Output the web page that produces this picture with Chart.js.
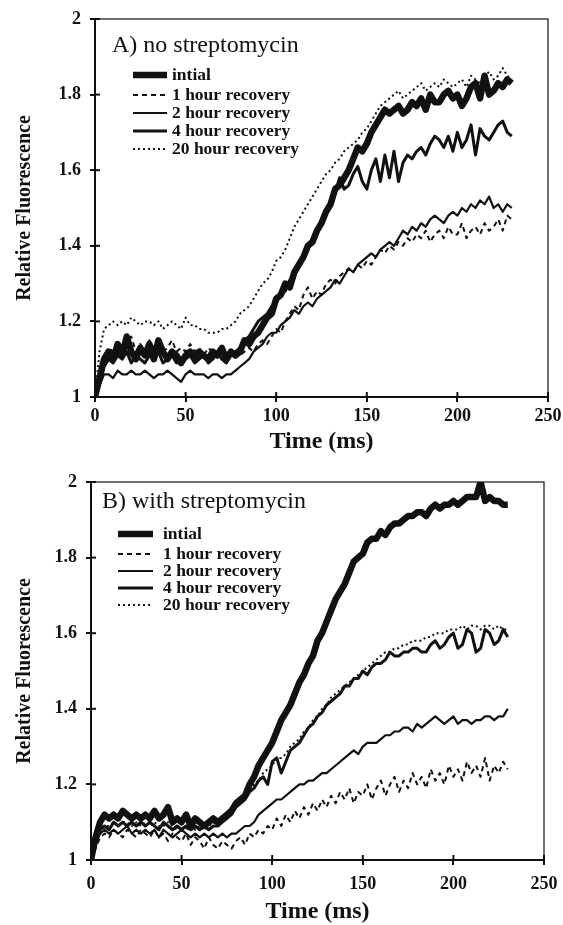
<!DOCTYPE html>
<html>
<head>
<meta charset="utf-8">
<title>Relative Fluorescence</title>
<script src="https://cdn.jsdelivr.net/npm/chart.js@4.4.1/dist/chart.umd.min.js"></script>
<style>
    html, body { margin: 0; padding: 0; background: #fff; }
    canvas { display: block; }
</style>
</head>
<body>
<canvas id="graficoA" width="563" height="462"></canvas>
<canvas id="graficoB" width="563" height="463"></canvas>
<script>
// Tiempo (ms)
const tiempos = [0,2.5,5,7.5,10,12.5,15,17.5,20,22.5,
    25,27.5,30,32.5,35,37.5,40,42.5,45,47.5,
    50,52.5,55,57.5,60,62.5,65,67.5,70,72.5,
    75,77.5,80,82.5,85,87.5,90,92.5,95,97.5,
    100,102.5,105,107.5,110,112.5,115,117.5,120,122.5,
    125,127.5,130,132.5,135,137.5,140,142.5,145,147.5,
    150,152.5,155,157.5,160,162.5,165,167.5,170,172.5,
    175,177.5,180,182.5,185,187.5,190,192.5,195,197.5,
    200,202.5,205,207.5,210,212.5,215,217.5,220,222.5,
    225,227.5,230];

const etiquetas = ['intial', '1 hour recovery', '2 hour recovery', '4 hour recovery', '20 hour recovery'];
const marcasX = [0, 50, 100, 150, 200, 250];
const marcasY = [1, 1.2, 1.4, 1.6, 1.8, 2];

// A) sin estreptomicina
const sinInicial = [1.00,1.05,1.10,1.12,1.10,1.14,1.11,1.16,1.12,1.10,
    1.13,1.11,1.14,1.10,1.15,1.12,1.10,1.12,1.11,1.09,
    1.11,1.12,1.10,1.12,1.11,1.10,1.12,1.11,1.13,1.10,
    1.12,1.11,1.12,1.15,1.14,1.16,1.17,1.19,1.21,1.22,
    1.26,1.27,1.30,1.29,1.33,1.35,1.37,1.40,1.41,1.44,
    1.46,1.49,1.51,1.55,1.56,1.58,1.60,1.63,1.66,1.65,
    1.67,1.70,1.72,1.74,1.76,1.75,1.76,1.77,1.75,1.76,
    1.78,1.77,1.79,1.76,1.80,1.78,1.78,1.80,1.81,1.79,
    1.80,1.77,1.79,1.82,1.83,1.79,1.85,1.80,1.81,1.83,
    1.82,1.84,1.83];
const sin1h = [1.00,1.06,1.11,1.13,1.12,1.15,1.13,1.14,1.16,1.12,
    1.14,1.12,1.15,1.13,1.14,1.12,1.13,1.15,1.12,1.13,
    1.12,1.14,1.12,1.13,1.11,1.13,1.12,1.11,1.13,1.12,
    1.11,1.12,1.11,1.12,1.13,1.12,1.14,1.15,1.14,1.16,
    1.18,1.17,1.20,1.22,1.24,1.23,1.27,1.29,1.26,1.28,
    1.27,1.30,1.31,1.30,1.32,1.33,1.34,1.33,1.35,1.34,
    1.36,1.35,1.37,1.39,1.38,1.40,1.39,1.41,1.40,1.42,
    1.41,1.43,1.42,1.44,1.41,1.43,1.44,1.42,1.45,1.43,
    1.43,1.46,1.42,1.44,1.45,1.43,1.46,1.44,1.45,1.47,
    1.44,1.48,1.47];
const sin2h = [1.00,1.03,1.06,1.06,1.05,1.07,1.06,1.06,1.07,1.06,
    1.06,1.07,1.06,1.05,1.06,1.06,1.07,1.06,1.05,1.04,
    1.06,1.07,1.06,1.06,1.06,1.05,1.06,1.06,1.05,1.06,
    1.06,1.07,1.08,1.09,1.10,1.12,1.13,1.14,1.16,1.17,
    1.17,1.19,1.20,1.21,1.23,1.22,1.24,1.25,1.24,1.26,
    1.27,1.28,1.29,1.31,1.30,1.32,1.34,1.33,1.35,1.36,
    1.37,1.38,1.37,1.39,1.40,1.41,1.40,1.42,1.44,1.43,
    1.45,1.44,1.46,1.45,1.47,1.48,1.47,1.46,1.48,1.49,
    1.48,1.50,1.49,1.51,1.50,1.52,1.51,1.53,1.50,1.51,
    1.49,1.51,1.50];
const sin4h = [1.00,1.04,1.08,1.10,1.09,1.11,1.10,1.12,1.09,1.11,
    1.10,1.09,1.11,1.10,1.12,1.09,1.10,1.11,1.09,1.10,
    1.10,1.11,1.09,1.10,1.11,1.09,1.10,1.12,1.10,1.09,
    1.11,1.12,1.13,1.15,1.16,1.18,1.20,1.21,1.22,1.24,
    1.25,1.27,1.28,1.31,1.32,1.35,1.37,1.39,1.42,1.44,
    1.47,1.49,1.52,1.54,1.58,1.55,1.56,1.59,1.61,1.57,
    1.55,1.60,1.63,1.57,1.64,1.58,1.65,1.57,1.62,1.64,
    1.63,1.65,1.66,1.64,1.67,1.69,1.68,1.66,1.69,1.65,
    1.70,1.66,1.68,1.72,1.64,1.71,1.69,1.68,1.70,1.72,
    1.73,1.70,1.69];
const sin20h = [1.00,1.12,1.18,1.19,1.20,1.19,1.20,1.19,1.21,1.20,
    1.19,1.20,1.20,1.19,1.20,1.18,1.19,1.20,1.19,1.18,
    1.21,1.19,1.19,1.18,1.18,1.17,1.17,1.17,1.18,1.18,
    1.19,1.20,1.22,1.23,1.24,1.26,1.28,1.30,1.31,1.33,
    1.36,1.37,1.39,1.42,1.45,1.47,1.49,1.51,1.53,1.55,
    1.57,1.59,1.60,1.62,1.63,1.65,1.66,1.67,1.68,1.70,
    1.71,1.73,1.75,1.77,1.78,1.79,1.80,1.81,1.79,1.80,
    1.81,1.82,1.83,1.81,1.82,1.83,1.82,1.84,1.83,1.82,
    1.83,1.84,1.82,1.85,1.84,1.83,1.85,1.86,1.84,1.85,
    1.87,1.85,1.84];

// B) con estreptomicina
const conInicial = [1.00,1.06,1.10,1.12,1.11,1.12,1.11,1.13,1.12,1.11,
    1.12,1.11,1.12,1.11,1.13,1.11,1.12,1.14,1.10,1.11,
    1.10,1.12,1.09,1.11,1.10,1.09,1.10,1.11,1.10,1.11,
    1.12,1.13,1.15,1.16,1.17,1.20,1.22,1.25,1.27,1.29,
    1.31,1.34,1.37,1.39,1.41,1.44,1.47,1.49,1.52,1.54,
    1.58,1.60,1.63,1.66,1.69,1.71,1.73,1.76,1.79,1.80,
    1.81,1.84,1.85,1.85,1.87,1.86,1.88,1.89,1.89,1.90,
    1.91,1.91,1.92,1.92,1.91,1.93,1.94,1.93,1.94,1.94,
    1.95,1.94,1.95,1.96,1.96,1.96,2.00,1.95,1.96,1.95,
    1.95,1.94,1.94];
const con1h = [1.00,1.03,1.06,1.07,1.06,1.08,1.07,1.06,1.08,1.07,
    1.06,1.08,1.07,1.06,1.08,1.06,1.07,1.05,1.07,1.06,
    1.05,1.07,1.04,1.06,1.05,1.03,1.06,1.04,1.03,1.05,
    1.04,1.03,1.05,1.06,1.04,1.07,1.06,1.08,1.07,1.09,
    1.08,1.11,1.09,1.12,1.10,1.13,1.11,1.14,1.12,1.15,
    1.13,1.16,1.14,1.17,1.15,1.18,1.16,1.19,1.15,1.18,
    1.17,1.20,1.16,1.19,1.21,1.17,1.20,1.22,1.18,1.21,
    1.19,1.23,1.20,1.22,1.19,1.24,1.21,1.23,1.20,1.25,
    1.22,1.24,1.21,1.26,1.23,1.25,1.22,1.27,1.21,1.25,
    1.23,1.26,1.24];
const con2h = [1.00,1.04,1.07,1.08,1.07,1.08,1.07,1.08,1.09,1.07,
    1.08,1.07,1.08,1.07,1.08,1.06,1.08,1.07,1.06,1.07,
    1.08,1.07,1.06,1.07,1.06,1.07,1.06,1.07,1.06,1.07,
    1.06,1.07,1.07,1.08,1.09,1.09,1.10,1.12,1.13,1.14,
    1.15,1.16,1.16,1.17,1.18,1.19,1.20,1.20,1.21,1.21,
    1.22,1.23,1.23,1.24,1.25,1.26,1.27,1.28,1.29,1.28,
    1.30,1.31,1.31,1.31,1.32,1.33,1.33,1.34,1.34,1.35,
    1.35,1.34,1.36,1.35,1.36,1.37,1.38,1.37,1.36,1.37,
    1.38,1.36,1.37,1.37,1.36,1.37,1.37,1.38,1.38,1.37,
    1.38,1.38,1.40];
const con4h = [1.00,1.05,1.08,1.09,1.08,1.10,1.09,1.10,1.09,1.10,
    1.09,1.10,1.09,1.10,1.09,1.08,1.10,1.09,1.08,1.09,
    1.08,1.09,1.08,1.09,1.08,1.09,1.08,1.09,1.09,1.10,
    1.11,1.12,1.14,1.15,1.16,1.18,1.19,1.21,1.22,1.20,
    1.26,1.27,1.23,1.26,1.29,1.30,1.31,1.33,1.35,1.36,
    1.38,1.39,1.41,1.42,1.43,1.44,1.46,1.46,1.48,1.48,
    1.50,1.49,1.51,1.52,1.52,1.53,1.55,1.54,1.54,1.55,
    1.55,1.56,1.56,1.55,1.55,1.57,1.58,1.56,1.57,1.59,
    1.60,1.56,1.57,1.61,1.60,1.55,1.56,1.61,1.60,1.57,
    1.58,1.61,1.59];
const con20h = [1.00,1.05,1.08,1.09,1.09,1.10,1.09,1.10,1.10,1.09,
    1.10,1.09,1.10,1.09,1.10,1.09,1.09,1.10,1.09,1.08,
    1.09,1.08,1.09,1.08,1.09,1.08,1.09,1.10,1.09,1.10,
    1.11,1.13,1.14,1.15,1.17,1.18,1.20,1.21,1.23,1.24,
    1.25,1.27,1.27,1.28,1.30,1.31,1.32,1.34,1.35,1.37,
    1.38,1.40,1.41,1.43,1.44,1.45,1.46,1.47,1.48,1.49,
    1.50,1.51,1.52,1.53,1.54,1.55,1.55,1.56,1.56,1.57,
    1.57,1.58,1.58,1.58,1.59,1.59,1.60,1.60,1.60,1.61,
    1.61,1.61,1.62,1.61,1.62,1.62,1.61,1.62,1.62,1.61,
    1.62,1.61,1.61];

// Estilo de cada curva (grosor y trazo)
const grosores = [6.5, 2, 2.2, 3, 2];
const trazos = [[], [5, 4], [], [], [2, 3]];
const NEGRO = '#111';
const FUENTE = '"Liberation Serif", "Times New Roman", serif';

Chart.defaults.font.family = FUENTE;
Chart.defaults.color = NEGRO;

// Marco, marcas interiores, título y leyenda dentro del área del gráfico
const pluginPanel = {
    id: 'panel',
    afterDatasetsDraw(chart, args, opts) {
        const { ctx, chartArea: a } = chart;
        ctx.save();
        ctx.strokeStyle = NEGRO;
        ctx.fillStyle = NEGRO;
        ctx.lineWidth = 1.2;
        ctx.strokeRect(a.left, a.top, a.right - a.left, a.bottom - a.top);

        // marcas hacia dentro
        ctx.lineWidth = 2;
        chart.scales.y.ticks.forEach(t => {
            const py = chart.scales.y.getPixelForValue(t.value);
            ctx.beginPath();
            ctx.moveTo(a.left, py);
            ctx.lineTo(a.left + 5, py);
            ctx.stroke();
        });
        chart.scales.x.ticks.forEach(t => {
            const px = chart.scales.x.getPixelForValue(t.value);
            ctx.beginPath();
            ctx.moveTo(px, a.bottom);
            ctx.lineTo(px, a.bottom - 5);
            ctx.stroke();
        });

        // título del panel
        ctx.font = '24px ' + FUENTE;
        ctx.textBaseline = 'alphabetic';
        ctx.fillText(opts.titulo, a.left + opts.tituloX, a.top + opts.tituloY);

        // leyenda
        ctx.font = 'bold 17.5px ' + FUENTE;
        chart.data.datasets.forEach((ds, i) => {
            const y = a.top + opts.filas[i];
            ctx.lineWidth = ds.borderWidth;
            ctx.setLineDash(ds.borderDash);
            ctx.beginPath();
            ctx.moveTo(a.left + opts.lineaX0, y);
            ctx.lineTo(a.left + opts.lineaX1, y);
            ctx.stroke();
            ctx.setLineDash([]);
            ctx.fillText(ds.label, a.left + opts.textoX, y + 5);
        });
        ctx.restore();
    }
};

function crearGrafico(idCanvas, series, conf) {
    const ctx = document.getElementById(idCanvas).getContext('2d');

    const datasets = series.map((valores, i) => ({
        label: etiquetas[i],
        data: valores.map((v, j) => ({ x: tiempos[j], y: v })),
        borderColor: NEGRO,
        borderWidth: grosores[i],
        borderDash: trazos[i],
        borderJoinStyle: 'round',
        pointRadius: 0,
        tension: 0,
        fill: false
    }));

    return new Chart(ctx, {
        type: 'line',
        data: { datasets: datasets },
        plugins: [pluginPanel],
        options: {
            responsive: false,
            animation: false,
            devicePixelRatio: 1,
            layout: { padding: { top: conf.arriba, right: conf.derecha, left: 0, bottom: 0 } },
            plugins: {
                legend: { display: false },
                tooltip: { enabled: false },
                panel: conf.panel
            },
            scales: {
                x: {
                    type: 'linear',
                    min: marcasX[0],
                    max: marcasX[marcasX.length - 1],
                    afterBuildTicks: (escala) => { escala.ticks = marcasX.map(v => ({ value: v })); },
                    afterFit: (escala) => {
                        escala.height = 65;
                        escala.paddingLeft = 0;
                        escala.paddingRight = 0;
                    },
                    border: { display: true, color: NEGRO, width: 2 },
                    grid: { drawOnChartArea: false, color: NEGRO, lineWidth: 2, tickLength: 5 },
                    ticks: {
                        padding: conf.padTicksX, maxRotation: 0,
                        font: { size: 18, weight: 'bold' },
                        callback: (v) => String(v)
                    },
                    title: {
                        display: true,
                        text: 'Time (ms)',
                        font: { size: 24, weight: 'bold', lineHeight: 1 },
                        padding: { top: 0, bottom: conf.padTituloX }
                    }
                },
                y: {
                    min: marcasY[0],
                    max: marcasY[marcasY.length - 1],
                    afterBuildTicks: (escala) => { escala.ticks = marcasY.map(v => ({ value: v })); },
                    afterFit: (escala) => {
                        escala.width = conf.anchoY;
                        escala.paddingTop = 0;
                        escala.paddingBottom = 0;
                    },
                    border: { display: true, color: NEGRO, width: 2 },
                    grid: { drawOnChartArea: false, color: NEGRO, lineWidth: 2, tickLength: 5 },
                    ticks: {
                        padding: 9,
                        font: { size: 18, weight: 'bold' },
                        callback: (v) => String(v)
                    },
                    title: {
                        display: true,
                        text: 'Relative Fluorescence',
                        font: { size: 20, weight: 'bold', lineHeight: 1 },
                        padding: { top: 15, bottom: 0 }
                    }
                }
            }
        }
    });
}

crearGrafico('graficoA', [sinInicial, sin1h, sin2h, sin4h, sin20h], {
    arriba: 19, derecha: 15, anchoY: 95, padTicksX: 4, padTituloX: 8,
    panel: { titulo: 'A) no streptomycin', tituloX: 17, tituloY: 33,
             lineaX0: 38, lineaX1: 72, textoX: 77, filas: [56, 76, 94, 112, 130] }
});

crearGrafico('graficoB', [conInicial, con1h, con2h, con4h, con20h], {
    arriba: 20, derecha: 19, anchoY: 91, padTicksX: 9, padTituloX: 1,
    panel: { titulo: 'B) with streptomycin', tituloX: 11, tituloY: 26,
             lineaX0: 27, lineaX1: 62, textoX: 72, filas: [52, 72, 89, 106, 123] }
});
</script>
</body>
</html>
